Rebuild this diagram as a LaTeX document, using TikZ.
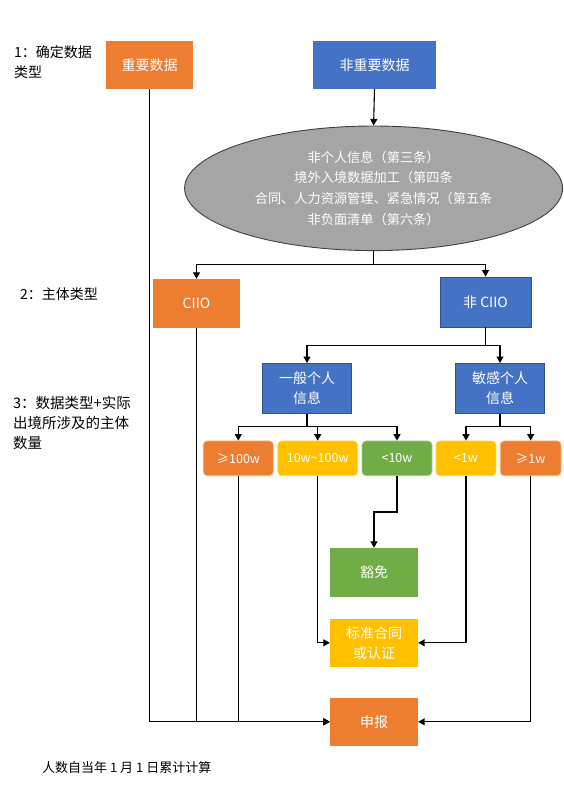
\documentclass[tikz,border=0pt]{standalone}
\usepackage{fontspec}
\setmainfont{Noto Sans CJK SC}
\usetikzlibrary{arrows.meta,shapes.geometric,calc}
\definecolor{cor}{HTML}{ED7D31}
\definecolor{cbl}{HTML}{4472C4}
\definecolor{cbd}{HTML}{2F528F}
\definecolor{cye}{HTML}{FFC000}
\definecolor{cgr}{HTML}{70AD47}
\definecolor{cgy}{HTML}{A5A5A5}
\definecolor{cgd}{HTML}{404040}
\begin{document}
\begin{tikzpicture}[x=1pt,y=-1pt,
  lbl/.style={anchor=west,inner sep=0pt,font=\fontsize{14}{20}\selectfont,align=left,text=black},
  boxx/.style={rectangle,inner sep=0pt,text=white,font=\fontsize{14}{20}\selectfont,align=center},
  orbox/.style={boxx,fill=cor},
  blbox/.style={boxx,fill=cbl,draw=cbd,line width=0.9pt},
  rbox/.style={boxx,rounded corners=4pt,font=\fontsize{12.5}{16}\selectfont,minimum height=34.7pt,line width=0.7pt},
  arr/.style={draw=black,line width=1.1pt,-{Triangle[length=6.5pt,width=7pt]}},
  ln/.style={draw=black,line width=1.1pt}]
\useasboundingbox (0,0) rectangle (564,788);
% left labels
\node[lbl,anchor=north west] (l1) at (14,45) {1：确定数据\\类型};
\node[lbl] (l2) at (20,294) {2：主体类型};
\node[lbl,anchor=north west,font=\fontsize{14.5}{20}\selectfont] (l3) at (13,396.5) {3：数据类型+实际\\出境所涉及的主体\\数量};
\node[lbl,font=\fontsize{13}{14}\selectfont] (fn) at (42,767.3) {人数自当年 1 月 1 日累计计算};
% top boxes
\node[orbox,minimum width=87pt,minimum height=48pt] (zy) at (149.5,65) {重要数据};
\node[boxx,fill=cbl,minimum width=123pt,minimum height=48pt] (fzy) at (374.5,65) {非重要数据};
\node[ellipse,fill=cgy,draw=cgd,line width=0.9pt,minimum width=378pt,minimum height=124.6pt,inner sep=0pt,
  text=white,font=\fontsize{13.2}{20.7}\selectfont,align=center] (ell) at (373.6,188.3)
  {非个人信息（第三条）\\境外入境数据加工（第四条\\合同、人力资源管理、紧急情况（第五条\\非负面清单（第六条）};
\node[orbox,minimum width=87pt,minimum height=49pt,font=\fontsize{14}{16}\selectfont] (ciio) at (196.5,303.5) {CIIO};
\node[blbox,minimum width=91pt,minimum height=50pt,font=\fontsize{14}{16}\selectfont] (fciio) at (485.5,302) {非 CIIO};
\node[blbox,minimum width=89pt,minimum height=50pt] (yb) at (307,388.5) {一般个人\\信息};
\node[blbox,minimum width=89pt,minimum height=50pt] (mg) at (500,388.5) {敏感个人\\信息};
% small rounded boxes
\node[rbox,fill=cor,draw=cor!60!white,minimum width=70pt] (a) at (238.3,458.3) {≥100w};
\node[rbox,fill=cye,draw=cye!60!white,minimum width=80pt] (b) at (317.7,458.3) {10w\textasciitilde 100w};
\node[rbox,fill=cgr,draw=cgr!60!white,minimum width=70pt] (c) at (397,458.3) {<10w};
\node[rbox,fill=cye,draw=cye!60!white,minimum width=60pt] (d) at (466,458.3) {<1w};
\node[rbox,fill=cor,draw=cor!60!white,minimum width=60.7pt] (e) at (530.7,458.3) {≥1w};
% result boxes
\node[boxx,fill=cgr,minimum width=88pt,minimum height=48.7pt] (hm) at (374,572.3) {豁免};
\node[boxx,fill=cye,minimum width=88pt,minimum height=47.7pt] (bz) at (374,642.8) {标准合同\\或认证};
\node[orbox,minimum width=88pt,minimum height=47.7pt] (sb) at (374,721.8) {申报};
% connectors
\draw[arr] (fzy.south) -- (ell.north);
\draw[arr] (ell.south) -- ++(0,13.6) -| (ciio.north);
\draw[arr] (ell.south) -- ++(0,13.6) -| (fciio.north);
\draw[arr] (fciio.south) -- ++(0,17.7) -| (yb.north);
\draw[arr] (fciio.south) -- ++(0,17.7) -| (mg.north);
\draw[arr] (yb.south) -- ++(0,12.7) -| (a.north);
\draw[arr] (yb.south) -- ++(0,12.7) -| (b.north);
\draw[arr] (yb.south) -- ++(0,12.7) -| (c.north);
\draw[arr] (mg.south) -- ++(0,12.7) -| (d.north);
\draw[arr] (mg.south) -- ++(0,12.7) -| (e.north);
\draw[arr] (c.south) -- ++(0,36) -| (hm.north);
\draw[arr] (b.south) |- (bz.west);
\draw[arr] (d.south) |- (bz.east);
\draw[arr] (zy.south) |- (sb.west);
\draw[arr] (ciio.south) |- (sb.west);
\draw[arr] (a.south) |- (sb.west);
\draw[arr] (e.south) |- (sb.east);
\end{tikzpicture}
\end{document}
